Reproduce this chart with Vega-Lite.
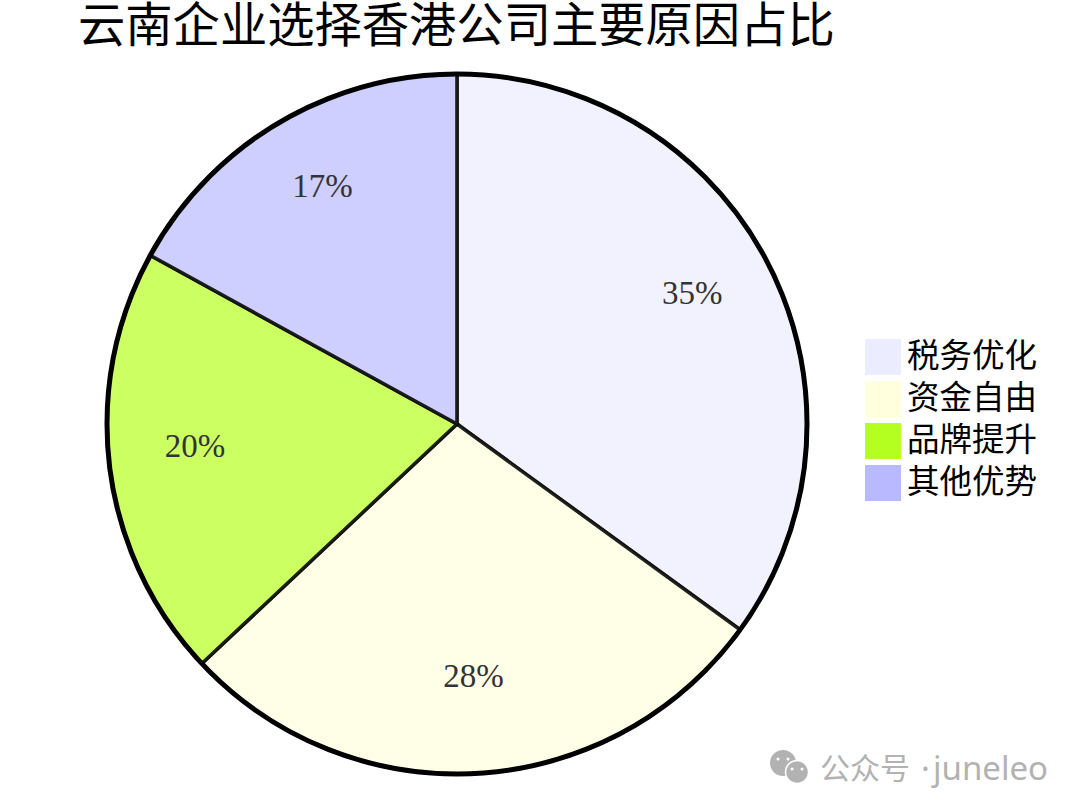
{"$schema":"https://vega.github.io/schema/vega-lite/v6.json","width":704,"height":704,"autosize":"none","padding":{"left":105,"top":72,"right":271,"bottom":35},"background":"white","view":{"stroke":null},
"title":{"text":"云南企业选择香港公司主要原因占比","anchor":"start","frame":"group","dx":-27,"offset":12,"font":"Noto Sans CJK SC","fontSize":47.3,"fontWeight":"normal","color":"#000"},
"data":{"values":[{"name":"税务优化","value":35,"i":1,"label":"35%"},{"name":"资金自由","value":28,"i":2,"label":"28%"},{"name":"品牌提升","value":20,"i":3,"label":"20%"},{"name":"其他优势","value":17,"i":4,"label":"17%"}]},
"layer":[
{"mark":{"type":"arc","radius":350,"fillOpacity":0.7,"stroke":"#111","strokeWidth":3.5,"strokeOpacity":0.9},
"encoding":{"theta":{"field":"value","type":"quantitative","stack":true},"order":{"field":"i","type":"ordinal"},
"color":{"field":"name","type":"nominal","scale":{"domain":["税务优化","资金自由","品牌提升","其他优势"],"range":["#ECECFF","#FFFFDE","#B5FF20","#B9B9FF"]},
"legend":{"orient":"none","legendX":760,"legendY":267,"title":null,"padding":0,"symbolType":"square","symbolSize":1296,"symbolOpacity":1,"symbolStrokeWidth":0,"labelFont":"Noto Sans CJK SC","labelFontSize":32.5,"labelColor":"#000","labelOffset":6,"rowPadding":6,"labelLimit":200}}}},
{"data":{"values":[{"ring":1}]},"mark":{"type":"arc","radius":350,"theta":0,"theta2":6.2832,"fill":null,"stroke":"#000","strokeWidth":5},"encoding":{}},
{"mark":{"type":"text","font":"Liberation Sans Narrow","fontSize":33,"fill":"#333","align":"center","baseline":"alphabetic"},
"encoding":{"theta":{"field":"value","type":"quantitative","stack":true},"order":{"field":"i","type":"ordinal"},"radius":{"value":264},"text":{"field":"label"}}},
{"data":{"values":[{"px":0.9631,"py":0.0185}]},"mark":{"type":"point","shape":"circle","filled":true,"opacity":1,"size":676,"color":"#b2b2b2"},
"encoding":{"x":{"field":"px","type":"quantitative","scale":{"domain":[0,1]},"axis":null},"y":{"field":"py","type":"quantitative","scale":{"domain":[0,1]},"axis":null}}},
{"data":{"values":[{"px":0.9830,"py":0.0057}]},"mark":{"type":"point","shape":"circle","filled":true,"opacity":1,"size":529,"color":"#b2b2b2","stroke":"white","strokeWidth":1.5},
"encoding":{"x":{"field":"px","type":"quantitative","scale":{"domain":[0,1]},"axis":null},"y":{"field":"py","type":"quantitative","scale":{"domain":[0,1]},"axis":null}}},
{"data":{"values":[{"px":0.9560,"py":0.0241},{"px":0.9702,"py":0.0241},{"px":0.9759,"py":0.0099},{"px":0.9901,"py":0.0099}]},"mark":{"type":"point","shape":"circle","filled":true,"opacity":1,"size":9,"color":"white"},
"encoding":{"x":{"field":"px","type":"quantitative","scale":{"domain":[0,1]},"axis":null},"y":{"field":"py","type":"quantitative","scale":{"domain":[0,1]},"axis":null}}},
{"data":{"values":[{"t":"公众号","px":1.0156,"py":0.0085}]},"mark":{"type":"text","font":"Noto Sans CJK SC","fontSize":30,"fill":"#b2b2b2","align":"left","baseline":"middle"},
"encoding":{"x":{"field":"px","type":"quantitative","scale":{"domain":[0,1]},"axis":null},"y":{"field":"py","type":"quantitative","scale":{"domain":[0,1]},"axis":null},"text":{"field":"t"}}},
{"data":{"values":[{"t":"·","px":1.1591,"py":0.0085},{"t":"juneleo","px":1.1761,"py":0.0085}]},"mark":{"type":"text","font":"Noto Sans","fontSize":33,"fill":"#b2b2b2","align":"left","baseline":"middle"},
"encoding":{"x":{"field":"px","type":"quantitative","scale":{"domain":[0,1]},"axis":null},"y":{"field":"py","type":"quantitative","scale":{"domain":[0,1]},"axis":null},"text":{"field":"t"}}}
]}
